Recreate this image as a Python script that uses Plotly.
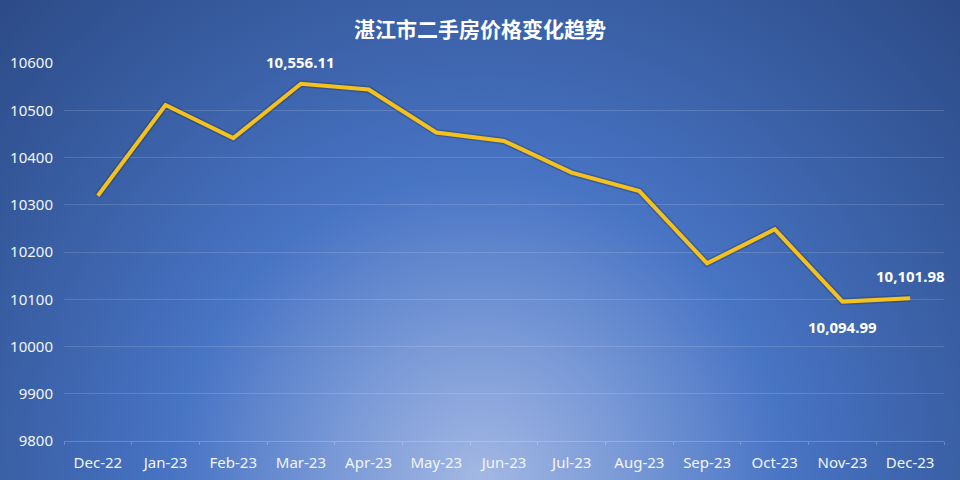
import base64
import plotly.graph_objects as go

months = ["Dec-22", "Jan-23", "Feb-23", "Mar-23", "Apr-23", "May-23", "Jun-23",
          "Jul-23", "Aug-23", "Sep-23", "Oct-23", "Nov-23", "Dec-23"]
prices = [10319, 10511, 10441, 10556.11, 10544, 10453, 10435,
          10368, 10329, 10176, 10248, 10094.99, 10101.98]
label_idx = [3, 11, 12]
label_pos = [1, -1, 1]  # 1 above, -1 below
y_ticks = [9800, 9900, 10000, 10100, 10200, 10300, 10400, 10500, 10600]
title = "湛江市二手房价格变化趋势"

W, H = 960, 480
ml, mr, mt, mb = 64, 16, 63, 39
pw, ph = W - ml - mr, H - mt - mb

svg = f'''<svg xmlns="http://www.w3.org/2000/svg" width="{W}" height="{H}" viewBox="0 0 {W} {H}">
<defs><radialGradient id="g" gradientUnits="userSpaceOnUse" cx="480" cy="480" r="680">
<stop offset="0" stop-color="#A3B8E4"/>
<stop offset="0.22" stop-color="#7898D6"/>
<stop offset="0.45" stop-color="#4874C4"/>
<stop offset="0.7" stop-color="#3A60A6"/>
<stop offset="1" stop-color="#2C4A86"/>
</radialGradient></defs>
<rect width="{W}" height="{H}" fill="url(#g)"/></svg>'''
src = "data:image/svg+xml;base64," + base64.b64encode(svg.encode()).decode()

fig = go.Figure()
fig.add_trace(go.Scatter(x=months, y=prices, mode="lines",
                         line=dict(color="rgba(20,30,60,0.25)", width=7),
                         hoverinfo="skip", showlegend=False))
fig.add_trace(go.Scatter(x=months, y=prices, mode="lines",
                         line=dict(color="#F5C11C", width=4),
                         showlegend=False))

for i, p in zip(label_idx, label_pos):
    fig.add_annotation(x=months[i], y=prices[i], xref="x", yref="y",
                       text=f"<b>{prices[i]:,.2f}</b>", showarrow=False,
                       yshift=22 if p > 0 else -25,
                       font=dict(family="Noto Sans, sans-serif", size=15, color="white"))

tick_font = dict(family="Noto Sans, sans-serif", size=15, color="#F2F5FC")

fig.update_layout(
    width=W, height=H,
    margin=dict(l=ml, r=mr, t=mt, b=mb, autoexpand=False),
    paper_bgcolor="#3A60A6",
    plot_bgcolor="rgba(0,0,0,0)",
    images=[dict(source=src, xref="paper", yref="paper",
                 x=-ml / pw, y=1 + mt / ph, sizex=W / pw, sizey=H / ph,
                 xanchor="left", yanchor="top", sizing="stretch", layer="below")],
    title=dict(text=f"<b>{title}</b>", x=0.5, xanchor="center",
               y=1 - 30 / H, yanchor="middle", yref="container",
               font=dict(family="Noto Sans CJK SC, sans-serif", size=21, color="white")),
    xaxis=dict(type="category", range=[-0.5, len(months) - 0.5],
               showgrid=False, showline=True, automargin=False,
               linecolor="rgba(255,255,255,0.2)", linewidth=1,
               ticks="outside", tickson="boundaries", ticklen=3,
               tickcolor="rgba(255,255,255,0.25)",
               tickfont=tick_font, ticklabelstandoff=8, zeroline=False),
    yaxis=dict(range=[9800, 10600], tickvals=y_ticks, tickformat="d",
               showgrid=True, gridcolor="rgba(255,255,255,0.15)", gridwidth=1,
               showline=False, zeroline=False, ticks="", automargin=False,
               tickfont=tick_font, ticklabelstandoff=10),
)

fig.write_html("out.html", config={"displayModeBar": False},
               post_script="document.body.style.margin='0px';document.body.style.overflow='hidden';")
